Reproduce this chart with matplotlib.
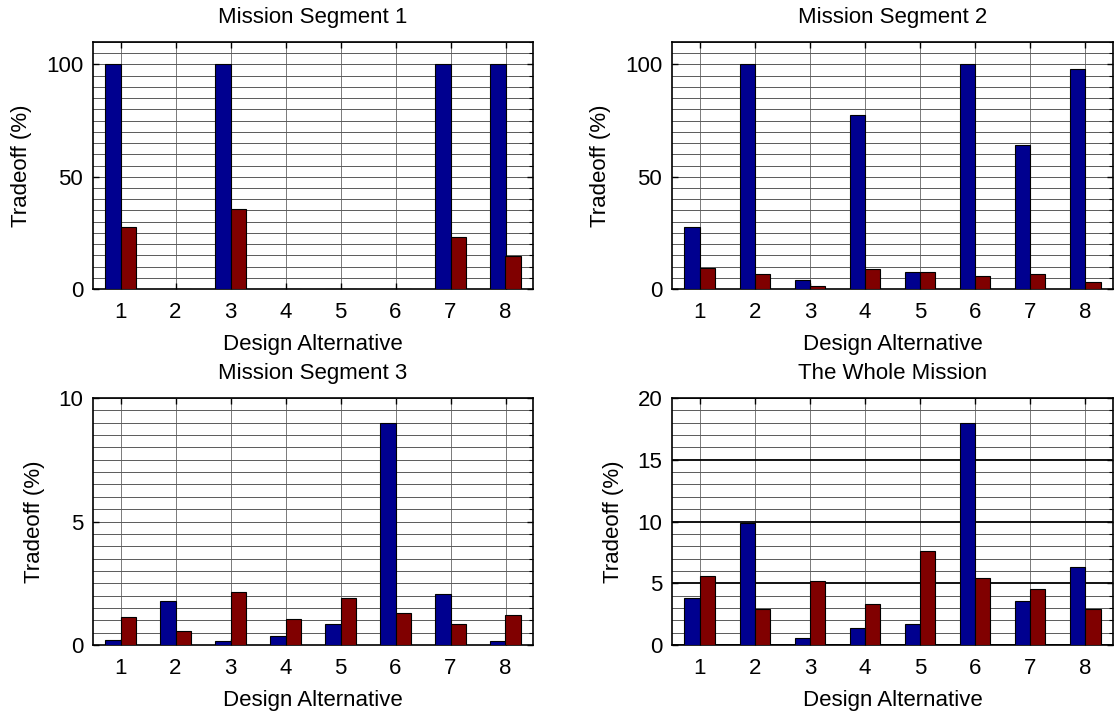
import matplotlib
matplotlib.use("Agg")
import matplotlib.pyplot as plt
import numpy as np
from matplotlib.ticker import MultipleLocator

plt.rcParams['font.family'] = ['Liberation Sans', 'DejaVu Sans']

alternatives = [1, 2, 3, 4, 5, 6, 7, 8]
titles = ["Mission Segment 1", "Mission Segment 2", "Mission Segment 3", "The Whole Mission"]

seg1_blue = [100, 0, 100, 0, 0, 0, 100, 100]
seg1_red = [27.6, 0, 35.7, 0, 0, 0, 23.3, 14.8]

seg2_blue = [27.6, 100, 4.1, 77.5, 7.4, 100, 64.1, 97.8]
seg2_red = [9.2, 6.7, 1.5, 9.0, 7.4, 5.8, 6.7, 3.3]

seg3_blue = [0.2, 1.78, 0.15, 0.35, 0.85, 9.0, 2.07, 0.15]
seg3_red = [1.15, 0.55, 2.13, 1.05, 1.9, 1.3, 0.85, 1.22]

whole_blue = [3.8, 9.9, 0.6, 1.36, 1.66, 18.0, 3.53, 6.28]
whole_red = [5.62, 2.88, 5.19, 3.34, 7.64, 5.46, 4.57, 2.88]

blue_series = [seg1_blue, seg2_blue, seg3_blue, whole_blue]
red_series = [seg1_red, seg2_red, seg3_red, whole_red]
ylims = [110, 110, 10, 20]
major_steps = [50, 50, 5, 5]
minor_steps = [5, 5, 0.5, 1]

BLUE = '#00008F'
RED = '#800000'

fig = plt.figure(figsize=(11.19, 7.13), dpi=100)
positions = [
    [93/1119, 1-289/713, 440/1119, 247/713],
    [672/1119, 1-289/713, 441/1119, 247/713],
    [93/1119, 1-645/713, 440/1119, 247/713],
    [672/1119, 1-645/713, 441/1119, 247/713],
]

x = np.array(alternatives, dtype=float)
w = 0.275
for i in range(4):
    ax = fig.add_axes(positions[i])
    ax.set_axisbelow(True)
    ax.bar(x - w/2, blue_series[i], width=w, color=BLUE, edgecolor='black', linewidth=0.8, zorder=3)
    ax.bar(x + w/2, red_series[i], width=w, color=RED, edgecolor='black', linewidth=0.8, zorder=3)
    ax.set_xlim(0.5, 8.5)
    ax.set_ylim(0, ylims[i])
    ax.set_xticks(alternatives)
    ax.yaxis.set_major_locator(MultipleLocator(major_steps[i]))
    ax.yaxis.set_minor_locator(MultipleLocator(minor_steps[i]))
    ax.grid(True, which='minor', axis='y', color='#5a5a5a', linewidth=0.7, zorder=0)
    if i == 3:
        ax.grid(True, which='major', axis='y', color='black', linewidth=1.3, zorder=0)
    else:
        ax.grid(True, which='major', axis='y', color='#5a5a5a', linewidth=0.7, zorder=0)
    ax.grid(True, which='major', axis='x', color='#7a7a7a', linewidth=0.7, zorder=0)
    ax.tick_params(which='major', direction='in', length=4, width=1,
                   left=True, right=True, top=True, bottom=True,
                   labelsize=16, pad=9)
    ax.tick_params(axis='y', which='major', pad=7)
    ax.tick_params(which='minor', direction='in', length=3, width=0.8,
                   left=False, right=True, top=False, bottom=False)
    for s in ax.spines.values():
        s.set_linewidth(1.2)
        s.set_color('black')
    ax.set_title(titles[i], fontsize=16, pad=14)
    ax.set_xlabel("Design Alternative", fontsize=16, labelpad=8)
    ax.set_ylabel("Tradeoff (%)", fontsize=16, labelpad=10)

fig.savefig("out.png", dpi=100)
